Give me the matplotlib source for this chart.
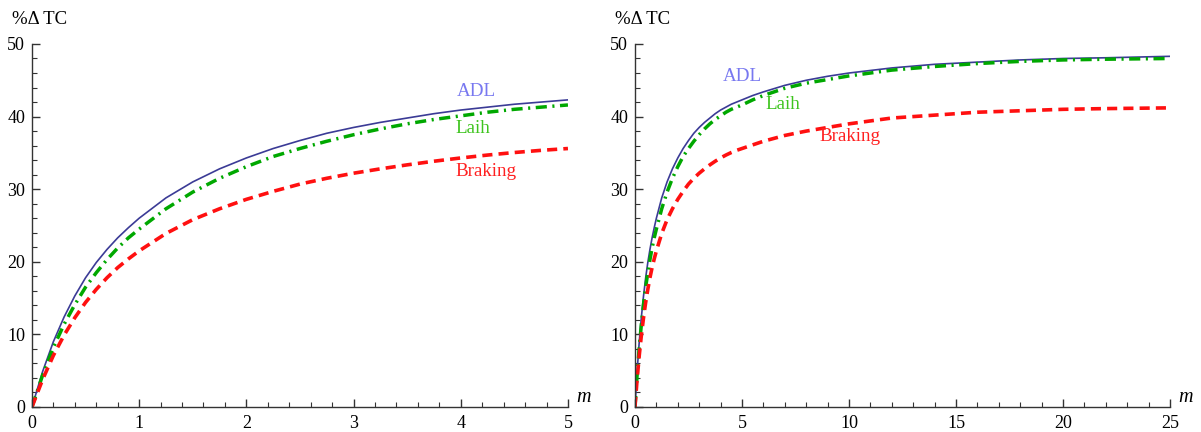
import matplotlib
matplotlib.use("Agg")
import matplotlib.pyplot as plt
from matplotlib.ticker import MultipleLocator

plt.rcParams["font.family"] = ["Liberation Serif", "DejaVu Serif"]

# --- values ---
# first stretch, m from 0 to 5 (left panel, also the start of the right one)
m_low = [0, 0.1, 0.2, 0.3, 0.4, 0.5, 0.6, 0.7, 0.8, 0.9, 1, 1.25, 1.5, 1.75, 2,
         2.25, 2.5, 2.75, 3, 3.25, 3.5, 3.75, 4, 4.25, 4.5, 4.75, 5]
adl_low = [0, 4.9, 9.0, 12.4, 15.3, 17.8, 19.9, 21.7, 23.3, 24.7, 26.0, 28.8, 31.0, 32.8, 34.3,
           35.6, 36.7, 37.7, 38.5, 39.2, 39.8, 40.4, 40.9, 41.3, 41.7, 42.0, 42.3]
laih_low = [0, 4.4, 8.2, 11.4, 14.1, 16.5, 18.5, 20.3, 21.9, 23.3, 24.5, 27.3, 29.6, 31.5, 33.1,
            34.5, 35.6, 36.6, 37.5, 38.3, 39.0, 39.6, 40.1, 40.6, 41.0, 41.3, 41.6]
braking_low = [0, 3.8, 7.1, 9.9, 12.3, 14.4, 16.2, 17.8, 19.2, 20.4, 21.5, 23.9, 25.8, 27.3, 28.6,
               29.7, 30.7, 31.5, 32.2, 32.8, 33.35, 33.85, 34.3, 34.7, 35.05, 35.35, 35.6]

# tail, m from 5 to 25 (right panel only)
m_tail = [5.5, 6, 7, 8, 9, 10, 12, 14, 16, 18, 20, 22, 25]
adl_tail = [42.9, 43.4, 44.3, 45.0, 45.55, 46.0, 46.7, 47.2, 47.5, 47.8, 48.0, 48.1, 48.3]
laih_tail = [42.3, 42.9, 43.9, 44.6, 45.1, 45.6, 46.4, 46.9, 47.3, 47.6, 47.8, 47.9, 48.0]
braking_tail = [36.1, 36.6, 37.4, 38.0, 38.5, 39.0, 39.8, 40.2, 40.6, 40.8, 41.0, 41.1, 41.2]

# label anchor points (data coords) for each panel
labels_left = {"ADL": (4.15, 43.4), "Laih": (4.11, 38.3), "Braking": (4.24, 32.5)}
labels_right = {"ADL": (5.0, 45.5), "Laih": (6.9, 41.7), "Braking": (10.05, 37.3)}

LINE_COLORS = {"ADL": "#3b3b96", "Laih": "#00a800", "Braking": "#ff1010"}
TEXT_COLORS = {"ADL": "#7878f0", "Laih": "#3ec41e", "Braking": "#ff2020"}

fig = plt.figure(figsize=(12.01, 4.32), dpi=100)
ax1 = fig.add_axes([0.0266, 0.0579, 0.4463, 0.8403])
ax2 = fig.add_axes([0.5287, 0.0579, 0.4455, 0.8403])


def draw_panel(ax, m, adl, laih, braking, xmax, xmajor, xminor, labels):
    ax.plot(m, adl, color=LINE_COLORS["ADL"], lw=1.2)
    ax.plot(m, laih, color=LINE_COLORS["Laih"], lw=2.5,
            dashes=(3.2, 1.6, 0.6, 1.6))
    ax.plot(m, braking, color=LINE_COLORS["Braking"], lw=2.6,
            dashes=(2.8, 1.7))
    for name, (x, y) in labels.items():
        ax.text(x, y, name, color=TEXT_COLORS[name], fontsize=13.7,
                ha="center", va="center")

    ax.set_xlim(0, xmax)
    ax.set_ylim(0, 50)
    for s in ("top", "right"):
        ax.spines[s].set_visible(False)
    for s in ("left", "bottom"):
        ax.spines[s].set_color("#333333")
        ax.spines[s].set_linewidth(1.0)
    ax.xaxis.set_major_locator(MultipleLocator(xmajor))
    ax.xaxis.set_minor_locator(MultipleLocator(xminor))
    ax.yaxis.set_major_locator(MultipleLocator(10))
    ax.yaxis.set_minor_locator(MultipleLocator(2))
    ax.tick_params(which="both", direction="in", colors="#333333",
                   labelcolor="black", labelsize=13)
    ax.tick_params(which="major", length=6, width=1.0)
    ax.tick_params(which="minor", length=3.5, width=0.8)
    ax.tick_params(axis="x", pad=6)
    ax.tick_params(axis="y", pad=5)
    ax.patch.set_alpha(0)

    ax.text(-0.037, 1.045, "%Δ TC", transform=ax.transAxes, fontsize=13.5,
            ha="left", va="bottom")
    ax.text(1.015, 0.0, "m", transform=ax.transAxes, fontsize=14.5,
            style="italic", ha="left", va="bottom")


draw_panel(ax1, m_low, adl_low, laih_low, braking_low, 5, 1, 0.2, labels_left)
draw_panel(ax2, m_low + m_tail, adl_low + adl_tail, laih_low + laih_tail,
           braking_low + braking_tail, 25, 5, 1, labels_right)

fig.savefig("out.png", dpi=100)
